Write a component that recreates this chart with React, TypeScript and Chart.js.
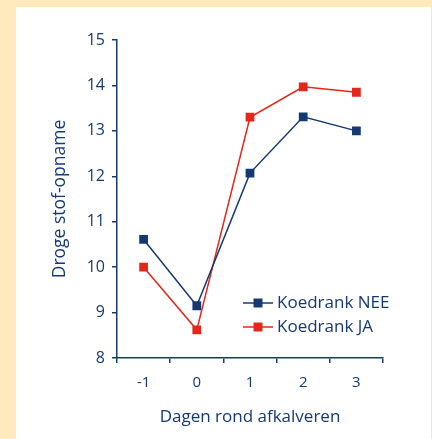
import React, { useEffect, useRef } from "react";
import { Chart, registerables } from "chart.js";

Chart.register(...registerables);

const categories = ["-1", "0", "1", "2", "3"];
const seriesNames = ["Koedrank NEE", "Koedrank JA"];
const valuesNee = [10.61, 9.15, 12.07, 13.31, 13.0];
const valuesJa = [10.0, 8.62, 13.3, 13.97, 13.85];
const yTitle = "Droge stof-opname";
const xTitle = "Dagen rond afkalveren";

const NAVY = "#153a73";
const RED = "#e5261b";
const FONT = "'Open Sans', sans-serif";

const legendPlugin = {
  id: "customLegend",
  afterDraw(chart: any) {
    const { ctx, chartArea } = chart;
    const x0 = chartArea.left + 126;
    const y0 = chartArea.top + 263;
    const gap = 24;
    ctx.save();
    chart.data.datasets.forEach((ds: any, i: number) => {
      const y = y0 + i * gap;
      ctx.strokeStyle = ds.borderColor;
      ctx.lineWidth = 1.5;
      ctx.beginPath();
      ctx.moveTo(x0, y);
      ctx.lineTo(x0 + 30, y);
      ctx.stroke();
      ctx.fillStyle = ds.backgroundColor;
      ctx.fillRect(x0 + 15 - 4.5, y - 4.5, 9, 9);
      ctx.fillStyle = NAVY;
      ctx.font = `17px ${FONT}`;
      ctx.textAlign = "left";
      ctx.textBaseline = "middle";
      ctx.fillText(ds.label, x0 + 34, y);
    });
    ctx.restore();
  },
};

export default function App() {
  const ref = useRef<HTMLCanvasElement | null>(null);

  useEffect(() => {
    document.body.style.margin = "0";
    const canvas = ref.current;
    if (!canvas) return;
    const chart = new Chart(canvas, {
      type: "line",
      data: {
        labels: categories,
        datasets: [
          {
            label: seriesNames[0],
            data: valuesNee,
            borderColor: NAVY,
            backgroundColor: NAVY,
            borderWidth: 1.5,
            pointStyle: "rect",
            pointRadius: 6.2,
            pointBorderWidth: 0,
            tension: 0,
          },
          {
            label: seriesNames[1],
            data: valuesJa,
            borderColor: RED,
            backgroundColor: RED,
            borderWidth: 1.5,
            pointStyle: "rect",
            pointRadius: 6.2,
            pointBorderWidth: 0,
            tension: 0,
          },
        ],
      },
      options: {
        animation: false,
        responsive: false,
        devicePixelRatio: 1,
        layout: { padding: { left: 0, right: 49, top: 40, bottom: 0 } },
        plugins: {
          legend: { display: false },
          tooltip: { enabled: false },
        },
        scales: {
          x: {
            type: "category",
            offset: true,
            afterFit: (scale: any) => {
              scale.height = 81;
            },
            grid: {
              offset: true,
              drawOnChartArea: false,
              drawTicks: true,
              tickLength: 5,
              color: NAVY,
              lineWidth: 1.5,
            },
            border: { display: true, color: NAVY, width: 1.5 },
            ticks: {
              color: NAVY,
              font: { family: FONT, size: 15 },
              padding: 11,
            },
            title: {
              display: true,
              text: xTitle,
              color: NAVY,
              font: { family: FONT, size: 17 },
              padding: { top: 0, bottom: 12 },
            },
          },
          y: {
            min: 8,
            max: 15,
            afterFit: (scale: any) => {
              scale.width = 117;
            },
            grid: {
              drawOnChartArea: false,
              drawTicks: true,
              tickLength: 5,
              color: NAVY,
              lineWidth: 1.5,
            },
            border: { display: true, color: NAVY, width: 1.5 },
            ticks: {
              stepSize: 1,
              color: NAVY,
              font: { family: FONT, size: 16 },
              padding: 7,
            },
            title: {
              display: true,
              text: yTitle,
              color: NAVY,
              font: { family: FONT, size: 17.5 },
              padding: { top: 50, bottom: 0 },
            },
          },
        },
      },
      plugins: [legendPlugin],
    });
    return () => chart.destroy();
  }, []);

  return (
    <div
      style={{
        position: "relative",
        width: 432,
        height: 439,
        background: "#feeabd",
        overflow: "hidden",
      }}
    >
      <div
        style={{
          position: "absolute",
          left: 16,
          top: 7,
          width: 415,
          height: 432,
          background: "#ffffff",
        }}
      />
      <canvas
        ref={ref}
        width={432}
        height={439}
        style={{ position: "absolute", left: 0, top: 0, width: 432, height: 439 }}
      />
    </div>
  );
}
